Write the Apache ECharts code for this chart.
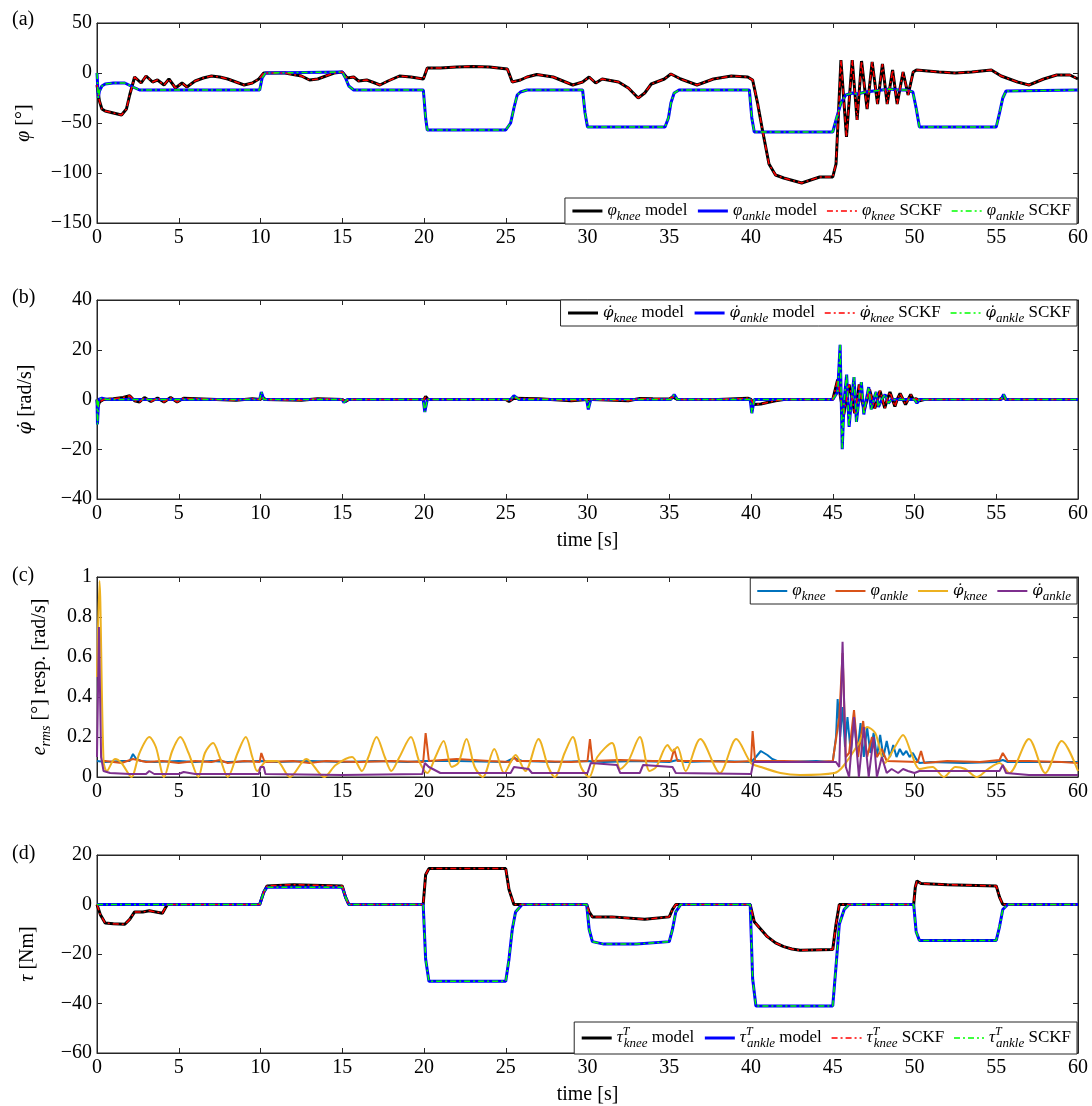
<!DOCTYPE html>
<html><head><meta charset="utf-8">
<script src="https://cdn.jsdelivr.net/npm/echarts@6/dist/echarts.min.js"></script>
<style>html,body{margin:0;padding:0;background:#fff}#c{width:1092px;height:1106px}</style>
</head><body><div id="c"></div>
<script>
// ---------- DATA ----------
const timeTicks = [0,5,10,15,20,25,30,35,40,45,50,55,60];
// (a) joint angles [deg]
const kneeAngle = [[0,-12],[0.15,-28],[0.3,-36],[0.5,-38],[1.0,-40],[1.5,-42],[1.8,-36],[2.0,-22],[2.3,-4],[2.7,-10],[3.0,-3],[3.4,-9],[3.7,-7],[4.1,-12],[4.4,-6],[4.8,-15],[5.2,-10],[5.5,-14],[6.0,-8],[6.5,-5],[7.0,-3],[7.5,-4],[8.0,-6],[8.5,-9],[9.0,-12],[9.5,-10],[9.9,-6],[10.2,0],[10.5,0],[11.5,0],[12.5,-3],[13.0,-7],[13.5,-6],[14.0,-3],[14.5,0],[15.0,1],[15.3,-5],[15.7,-4],[16.0,-8],[16.5,-7],[17.0,-10],[17.3,-12],[17.8,-8],[18.5,-3],[19.2,-4],[19.96,-6],[20.2,5],[21,5],[22,6],[23,6.5],[24,6],[25.1,4],[25.4,-9],[25.9,-7],[26.3,-4],[26.9,-1.5],[27.9,-4],[29.1,-12],[29.7,-9],[30.1,-4],[30.5,-10],[30.9,-6],[31.9,-9],[32.5,-15],[33.1,-25],[33.5,-20],[33.9,-11],[34.7,-6],[35.1,-1],[35.7,-6],[36.7,-12],[37.7,-6],[38.8,-3],[39.8,-4],[40.1,-7],[40.4,-30],[40.7,-57],[41.1,-91],[41.5,-102],[42.0,-105],[43.1,-110],[44.2,-104],[45.0,-104],[45.2,-91],[45.35,-40],[45.5,13],[45.84,-64],[46.19,13],[46.49,-47],[46.76,12],[47.1,-36],[47.41,11],[47.74,-31],[48.04,9],[48.33,-31],[48.66,3],[48.94,-31],[49.3,1],[49.61,-22],[49.92,1],[50.12,3],[51.5,1],[52.5,0],[53.5,1],[54.7,3],[55.0,0],[55.3,-3],[55.8,-6],[56.3,-9],[57.0,-12],[57.9,-6],[58.7,-2],[59.5,-2],[60,-6]];
const ankleAngle = [[0,0],[0.08,-25],[0.15,-18],[0.3,-13],[0.5,-11],[1.0,-10],[1.7,-10],[2.2,-14],[2.6,-17],[9.95,-17],[10.1,-5],[10.3,0],[15.0,1],[15.2,-5],[15.4,-13],[15.7,-17],[19.96,-17],[20.1,-45],[20.2,-57],[25.0,-57],[25.3,-50],[25.5,-35],[25.7,-22],[25.9,-19],[26.3,-17],[29.7,-17],[29.85,-40],[30.0,-54],[34.74,-54],[34.95,-45],[35.1,-30],[35.3,-20],[35.6,-17],[39.9,-17],[40.05,-45],[40.2,-59],[45.0,-59],[45.2,-47],[45.5,-30],[45.8,-22],[46.2,-20],[46.5,-21],[47.0,-19],[47.5,-18],[48.0,-17],[48.5,-16],[49.0,-17],[49.5,-17],[49.9,-19],[50.1,-35],[50.3,-54],[55.0,-54],[55.2,-40],[55.4,-25],[55.6,-18],[60,-17]];
// (b) joint velocities [rad/s]
const kneeVel = [[0,0],[0.05,-3],[0.15,-1],[0.4,0],[1.0,0.3],[1.6,0.8],[2.0,1.5],[2.3,-0.5],[2.6,-1],[2.9,0.8],[3.3,-0.8],[3.7,0.6],[4.1,-1],[4.5,0.8],[4.9,-1],[5.3,0.5],[6.5,0.2],[8.5,-0.3],[9.5,0.3],[10.0,0],[10.1,1],[10.3,0],[12.5,-0.3],[13.5,0.3],[15.0,0],[15.2,-0.8],[15.4,0],[17,0],[20.0,0],[20.1,1.2],[20.25,0],[25.0,0],[25.2,-0.8],[25.5,0.5],[27,0.3],[29,-0.5],[30.0,0],[30.1,0.8],[30.3,0],[32.5,-0.5],[33.2,0.4],[34,0.3],[35.0,0.2],[35.2,1],[35.5,0],[38,0],[39.8,0.5],[40.0,0],[40.2,-2],[40.6,-1.8],[41.0,-1.2],[41.5,-0.5],[42,0],[45.0,0],[45.15,4],[45.3,8],[45.5,0],[45.67,-6],[45.84,0],[46.0,6],[46.19,0],[46.34,-5.5],[46.49,0],[46.62,6],[46.76,0],[46.93,-4],[47.1,0],[47.25,4],[47.41,0],[47.57,-3.5],[47.74,0],[47.89,3.5],[48.04,0],[48.18,-3.5],[48.33,0],[48.5,3],[48.66,0],[48.8,-2.8],[48.94,0],[49.12,2.5],[49.3,0],[49.45,-2],[49.61,0],[49.77,2],[49.92,0],[50.1,0.3],[50.3,-0.5],[50.6,0],[55.2,0],[55.4,0.8],[55.6,0],[60,0]];
const ankleVel = [[0,0],[0.03,-10],[0.1,0],[0.3,0.5],[0.6,0],[9.95,0],[10.05,3],[10.2,0],[15.0,0],[15.1,-1.2],[15.3,0],[19.95,0],[20.05,-5],[20.2,0],[25.3,0],[25.5,1.5],[25.8,0],[29.95,0],[30.05,-4],[30.2,0],[35.1,0],[35.3,2],[35.5,0],[39.95,0],[40.05,-5.5],[40.2,0],[45.0,0],[45.3,3],[45.45,22],[45.52,0],[45.58,-20],[45.7,0],[45.85,10],[46.0,-11],[46.15,0],[46.3,9],[46.45,-9],[46.6,0],[46.75,7],[46.9,-6],[47.05,0],[47.2,5],[47.35,-4],[47.5,0],[47.65,3],[47.8,-3],[48.0,0],[48.2,2],[48.4,-1.5],[48.6,0],[50.0,0],[50.15,-1.5],[50.3,0],[55.3,0],[55.45,2],[55.6,0],[60,0]];
// (c) RMS errors
const errKneeAng = [[0,0.08],[0.5,0.075],[1.5,0.08],[2.0,0.08],[2.2,0.115],[2.4,0.09],[2.7,0.08],[3.5,0.075],[5,0.08],[6,0.075],[7,0.08],[8,0.075],[9,0.078],[10,0.08],[11,0.075],[13,0.08],[15,0.075],[17,0.08],[19,0.075],[20,0.08],[22,0.08],[25,0.075],[25.5,0.095],[26,0.08],[28,0.075],[30,0.08],[31,0.075],[33,0.08],[35,0.075],[35.5,0.085],[36,0.075],[38,0.08],[40,0.075],[40.3,0.1],[40.6,0.13],[41.0,0.11],[41.3,0.09],[41.6,0.08],[42,0.075],[44,0.08],[45,0.075],[45.2,0.2],[45.3,0.39],[45.45,0.2],[45.6,0.35],[45.75,0.15],[45.9,0.3],[46.1,0.12],[46.3,0.3],[46.5,0.12],[46.7,0.27],[46.9,0.1],[47.1,0.25],[47.3,0.12],[47.5,0.22],[47.7,0.1],[47.9,0.21],[48.1,0.1],[48.3,0.18],[48.5,0.1],[48.7,0.16],[48.9,0.1],[49.1,0.14],[49.3,0.11],[49.5,0.13],[49.7,0.1],[49.9,0.12],[50.1,0.09],[50.3,0.07],[51,0.075],[53,0.07],[55,0.075],[55.4,0.085],[55.7,0.075],[57,0.075],[60,0.075]];
const errAnkleAng = [[0.25,0.08],[0.5,0.08],[1.5,0.07],[2.2,0.09],[3,0.075],[4,0.08],[5,0.07],[6,0.08],[7,0.075],[7.5,0.085],[8,0.07],[9,0.08],[9.95,0.075],[10.05,0.12],[10.25,0.075],[12,0.08],[13,0.07],[14,0.08],[16,0.075],[18,0.08],[19.95,0.075],[20.1,0.22],[20.3,0.08],[22,0.09],[24,0.08],[25.3,0.075],[25.5,0.1],[25.7,0.08],[27,0.08],[29,0.075],[30.0,0.08],[30.15,0.19],[30.3,0.08],[32,0.085],[34,0.08],[35.1,0.08],[35.3,0.14],[35.5,0.08],[37,0.08],[39,0.075],[40.0,0.08],[40.1,0.23],[40.25,0.08],[42,0.08],[44,0.075],[45.0,0.08],[45.4,0.3],[45.6,0.62],[45.8,0.1],[46.0,0.12],[46.3,0.335],[46.55,0.1],[46.86,0.28],[47.1,0.1],[47.4,0.2],[47.7,0.1],[48.0,0.14],[48.3,0.08],[50.2,0.075],[50.4,0.13],[50.6,0.07],[52,0.08],[54,0.075],[55.2,0.085],[55.4,0.12],[55.7,0.08],[57,0.08],[59,0.075],[60,0.07]];
const errKneeVel = [[0,0.5],[0.15,0.98],[0.4,0.08],[0.6,0.03],[1.1,0.09],[1.5,0.07],[2.1,0.0],[2.6,0.12],[3.2,0.2],[3.6,0.15],[4.1,0.0],[4.6,0.13],[5.1,0.2],[5.6,0.12],[6.2,0.0],[6.6,0.12],[7.1,0.17],[7.5,0.1],[8.0,0.0],[8.6,0.12],[9.1,0.2],[9.5,0.1],[9.8,0.03],[10.4,0.08],[11.0,0.08],[11.8,0.0],[12.8,0.09],[13.9,0.0],[14.6,0.06],[15.6,0.1],[16.2,0.03],[16.6,0.1],[17.1,0.2],[17.6,0.1],[18.0,0.03],[18.5,0.1],[19.2,0.2],[19.7,0.08],[20.2,0.02],[20.7,0.1],[21.2,0.18],[21.7,0.05],[22.1,0.07],[22.6,0.19],[23.1,0.05],[23.6,0.0],[24.3,0.14],[24.9,0.02],[25.6,0.11],[26.2,0.03],[27.0,0.19],[27.6,0.05],[28.0,0.0],[28.6,0.12],[29.1,0.2],[29.6,0.05],[30.1,0.0],[30.6,0.1],[31.5,0.17],[32.0,0.04],[32.5,0.08],[33.2,0.2],[33.8,0.03],[34.2,0.05],[34.9,0.16],[35.2,0.13],[35.5,0.15],[36.0,0.03],[36.9,0.19],[38.1,0.02],[39.1,0.19],[40.0,0.07],[40.6,0.05],[41.8,0.02],[43.0,0.01],[45.1,0.02],[45.6,0.05],[46.6,0.17],[47.1,0.25],[47.6,0.22],[48.2,0.07],[48.8,0.15],[49.3,0.21],[49.8,0.12],[50.3,0.04],[51.1,0.05],[51.8,0.0],[52.5,0.05],[53.1,0.04],[53.8,0.0],[54.5,0.04],[55.2,0.07],[55.8,0.02],[57.0,0.19],[58.0,0.02],[59.0,0.18],[60,0.03]];
const errAnkleVel = [[0,0.1],[0.12,0.75],[0.25,0.1],[0.4,0.03],[0.8,0.02],[2,0.015],[3.0,0.015],[3.2,0.03],[3.5,0.015],[5,0.015],[5.3,0.025],[6,0.015],[9.9,0.015],[10.0,0.05],[10.2,0.05],[10.3,0.015],[15,0.01],[19.9,0.015],[20.05,0.07],[20.3,0.05],[21,0.02],[25.3,0.02],[25.5,0.05],[26.4,0.04],[26.6,0.02],[30.0,0.02],[30.2,0.07],[31.8,0.06],[32.0,0.02],[33.2,0.02],[33.4,0.06],[35.2,0.05],[35.4,0.02],[40.0,0.015],[40.15,0.075],[45.2,0.075],[45.4,0.05],[45.6,0.676],[45.8,0.05],[46.0,0.0],[46.3,0.3],[46.6,0.0],[46.9,0.25],[47.2,0.0],[47.5,0.2],[47.7,0.0],[48.0,0.1],[48.3,0.02],[48.6,0.04],[49.0,0.02],[49.3,0.04],[49.6,0.03],[50.0,0.02],[50.3,0.03],[52,0.03],[54,0.03],[55.2,0.03],[55.4,0.06],[55.6,0.02],[57,0.01],[60,0.01]];
// (d) joint torques [Nm]
const kneeTorque = [[0,0],[0.2,-4],[0.5,-7.5],[1.0,-7.8],[1.7,-8],[2.0,-6],[2.3,-3],[2.8,-3],[3.2,-2.5],[3.6,-3],[4.0,-3.5],[4.1,-3],[4.3,0],[9.95,0],[10.2,5],[10.4,7.5],[12,8],[15.0,7.5],[15.2,3],[15.4,0],[19.95,0],[20.1,12],[20.3,14.5],[22,14.5],[25.0,14.5],[25.2,6],[25.5,0],[29.95,0],[30.1,-3],[30.3,-5],[31.5,-5],[33.5,-6],[35.0,-5],[35.2,-2],[35.4,0],[39.95,0],[40.2,-7],[40.6,-10],[41.0,-13],[41.5,-15.5],[42.0,-17],[42.5,-18],[43.0,-18.5],[45.0,-18.2],[45.2,-8],[45.4,0],[49.95,0],[50.05,7],[50.15,9.5],[50.4,8.5],[52,8],[55.0,7.5],[55.2,3],[55.4,0],[60,0]];
const ankleTorque = [[0,0],[9.95,0],[10.2,5],[10.4,7],[15.0,7],[15.2,3],[15.4,0],[19.95,0],[20.1,-22],[20.3,-31],[25.0,-31],[25.2,-22],[25.4,-10],[25.6,-3],[26.0,0],[29.95,0],[30.1,-10],[30.3,-15],[31,-16],[33,-16],[35.0,-15],[35.2,-10],[35.4,-3],[35.7,0],[39.95,0],[40.1,-30],[40.3,-41],[45.0,-41],[45.2,-25],[45.4,-8],[45.7,-2],[46.0,0],[49.95,0],[50.1,-11],[50.3,-14.5],[55.0,-14.5],[55.2,-9],[55.4,-2],[55.7,0],[60,0]];

// ---------- CHART ----------
const F = 'Liberation Serif';
const FD = 'DejaVu Serif';
const INK = '#262626';
const grids = [{top:23,h:200},{top:300,h:199},{top:577,h:200},{top:855,h:200}];
const yRanges = [{min:-150,max:50,interval:50},{min:-40,max:40,interval:20},{min:0,max:1,interval:0.2},{min:-60,max:20,interval:20}];
const yNames = ['{i|φ} [°]','{d|φ̇} [rad/s]','{i|e}{s|rms} [°] resp. [rad/s]','{i|τ} [Nm]'];
const yGaps = [60,58,44,56];
const xNames = ['','time [s]','','time [s]'];

const rich = {
  i:{fontFamily:F,fontStyle:'italic',fontSize:17,lineHeight:24,color:'#000'},
  d:{fontFamily:FD,fontStyle:'italic',fontSize:15,lineHeight:24,color:'#000'},
  s:{fontFamily:F,fontStyle:'italic',fontSize:13,lineHeight:12,verticalAlign:'bottom',color:'#000'},
  p:{fontFamily:F,fontStyle:'italic',fontSize:12,lineHeight:12,verticalAlign:'top',width:1,color:'#000'}
};
const richAxis = {
  i:{fontFamily:F,fontStyle:'italic',fontSize:20,lineHeight:26,color:'#000'},
  d:{fontFamily:FD,fontStyle:'italic',fontSize:18,lineHeight:26,color:'#000'},
  s:{fontFamily:F,fontStyle:'italic',fontSize:14,lineHeight:12,verticalAlign:'bottom',color:'#000'}
};
const minus = v => String(Math.round(v*100)/100).replace('-', '\u2212');

const xAxis = [], yAxis = [];
grids.forEach((g,i)=>{
  const base = {gridIndex:i, type:'value', min:0, max:60, interval:5,
    axisLine:{show:true,onZero:false,lineStyle:{color:INK,width:1}},
    axisTick:{show:true,inside:true,length:5,lineStyle:{color:INK}},
    splitLine:{show:false}};
  xAxis.push(Object.assign({}, base, {position:'bottom',
    axisLabel:{color:'#000',fontFamily:F,fontSize:20,margin:5,formatter:minus},
    name:xNames[i], nameLocation:'middle', nameGap:32,
    nameTextStyle:{color:'#000',fontFamily:F,fontSize:20}}));
  xAxis.push(Object.assign({}, base, {position:'top', axisLabel:{show:false}}));
  const yb = Object.assign({gridIndex:i,type:'value',
    axisLine:{show:true,onZero:false,lineStyle:{color:INK,width:1}},
    axisTick:{show:true,inside:true,length:5,lineStyle:{color:INK}},
    splitLine:{show:false}}, yRanges[i]);
  yAxis.push(Object.assign({}, yb, {position:'left',
    axisLabel:{color:'#000',fontFamily:F,fontSize:20,margin:5,formatter:minus},
    name:yNames[i], nameLocation:'middle', nameGap:yGaps[i], nameRotate:90,
    nameTextStyle:{color:'#000',fontFamily:F,fontSize:20,lineHeight:26,rich:richAxis}}));
  yAxis.push(Object.assign({}, yb, {position:'right', axisLabel:{show:false}}));
});

const DD = [6,3,2,3];
function ln(name, gi, data, color, width, type, smooth){
  return {type:'line', name, xAxisIndex:2*gi, yAxisIndex:2*gi, data,
    symbol:'none', showSymbol:false, smooth:smooth||false, animation:false,
    lineStyle:{color, width, type:type||'solid'}, itemStyle:{color}};
}
const series = [
  ln('a1',0,kneeAngle,'#000000',3), ln('a2',0,ankleAngle,'#0000ff',3),
  ln('a3',0,kneeAngle,'#ff0000',1.5,DD), ln('a4',0,ankleAngle,'#00ff00',1.5,DD),
  ln('b1',1,kneeVel,'#000000',3), ln('b2',1,ankleVel,'#0000ff',3),
  ln('b3',1,kneeVel,'#ff0000',1.5,DD), ln('b4',1,ankleVel,'#00ff00',1.5,DD),
  ln('c1',2,errKneeAng,'#0072BD',2), ln('c2',2,errAnkleAng,'#D95319',2),
  ln('c3',2,errKneeVel,'#EDB120',2,'solid',0.3), ln('c4',2,errAnkleVel,'#7E2F8E',2),
  ln('d1',3,kneeTorque,'#000000',3), ln('d2',3,ankleTorque,'#0000ff',3),
  ln('d3',3,kneeTorque,'#ff0000',1.5,DD), ln('d4',3,ankleTorque,'#00ff00',1.5,DD)
];

const LBL = {
  a1:'{i|φ}{s|knee} model', a2:'{i|φ}{s|ankle} model', a3:'{i|φ}{s|knee} SCKF', a4:'{i|φ}{s|ankle} SCKF',
  b1:'{d|φ̇}{s|knee} model', b2:'{d|φ̇}{s|ankle} model', b3:'{d|φ̇}{s|knee} SCKF', b4:'{d|φ̇}{s|ankle} SCKF',
  c1:'{i|φ}{s|knee}', c2:'{i|φ}{s|ankle}', c3:'{d|φ̇}{s|knee}', c4:'{d|φ̇}{s|ankle}',
  d1:'{i|τ}{p|T}{s|knee} model', d2:'{i|τ}{p|T}{s|ankle} model', d3:'{i|τ}{p|T}{s|knee} SCKF', d4:'{i|τ}{p|T}{s|ankle} SCKF'
};
const CLEAR = 'rgba(0,0,0,0)';
function leg(ids, pos, pad){
  return Object.assign({data:ids, orient:'horizontal', selectedMode:false,
    itemWidth:30, itemHeight:10, itemGap:9, padding:pad||[1,6],
    backgroundColor:'#fff', borderColor:INK, borderWidth:1, borderRadius:0,
    itemStyle:{color:CLEAR, borderColor:CLEAR, borderWidth:0},
    lineStyle:{width:'inherit'},
    formatter:n=>LBL[n],
    textStyle:{fontFamily:F,fontSize:17,lineHeight:24,color:'#000',rich}}, pos);
}
const legend = [
  leg(['a1','a2','a3','a4'],{right:15,top:198}),
  leg(['b1','b2','b3','b4'],{right:15,top:300}),
  leg(['c1','c2','c3','c4'],{right:15,top:578}),
  leg(['d1','d2','d3','d4'],{right:15,bottom:52},[4,6])
];

const labels = [['(a)',22],['(b)',300],['(c)',578],['(d)',856]];
const graphic = labels.map(([t,y])=>({type:'text', left:12, top:y-12,
  style:{text:t, font:'20px "'+F+'"', fill:'#000'}}));

const chart = echarts.init(document.getElementById('c'));
chart.setOption({
  animation:false, backgroundColor:'#fff',
  grid: grids.map(g=>({left:97, right:14, top:g.top, height:g.h, show:true, borderColor:INK, borderWidth:1, backgroundColor:'#fff'})),
  xAxis, yAxis, series, legend, graphic
});
</script></body></html>
